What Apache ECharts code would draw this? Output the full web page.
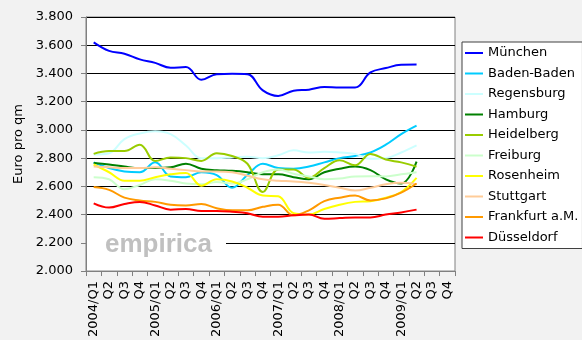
<!DOCTYPE html>
<html><head><meta charset="utf-8">
<script src="https://cdn.jsdelivr.net/npm/echarts@6/dist/echarts.min.js"></script>
<style>html,body{margin:0;padding:0;background:#F2F2F2;}#c{width:582px;height:340px;}</style>
</head><body><div id="c"></div>
<script>
const categories = ['2004/Q1','Q2','Q3','Q4','2005/Q1','Q2','Q3','Q4','2006/Q1','Q2','Q3','Q4','2007/Q1','Q2','Q3','Q4','2008/Q1','Q2','Q3','Q4','2009/Q1','Q2','Q3','Q4'];
const yTickLabels = ['2.000','2.200','2.400','2.600','2.800','3.000','3.200','3.400','3.600','3.800'];
const seriesNames = ['München','Baden-Baden','Regensburg','Hamburg','Heidelberg','Freiburg','Rosenheim','Stuttgart','Frankfurt a.M.','Düsseldorf'];
const muenchen   = [3620,3560,3540,3500,3475,3440,3445,3355,3395,3398,3395,3280,3240,3278,3285,3304,3300,3300,3407,3438,3461,3463];
const badenBaden = [2770,2730,2705,2700,2770,2670,2665,2700,2680,2590,2680,2760,2730,2725,2740,2770,2800,2815,2840,2895,2970,3030];
const regensburg = [2825,2835,2935,2975,2990,2970,2890,2800,2800,2805,2810,2800,2820,2855,2840,2845,2840,2830,2795,2800,2840,2890];
const hamburg    = [2765,2755,2740,2730,2730,2735,2760,2725,2715,2710,2700,2685,2685,2665,2650,2700,2725,2740,2715,2650,2620,2775];
const heidelberg = [2830,2850,2850,2895,2780,2805,2800,2780,2835,2815,2760,2560,2720,2720,2660,2730,2785,2750,2830,2790,2770,2740];
const freiburg   = [2665,2650,2580,2610,2650,2640,2620,2615,2630,2620,2650,2700,2720,2690,2670,2650,2655,2670,2672,2670,2685,2700];
const rosenheim  = [2755,2700,2640,2640,2665,2685,2695,2605,2650,2635,2590,2535,2530,2410,2400,2440,2470,2490,2495,2520,2560,2660];
const stuttgart  = [2740,2735,2730,2730,2735,2725,2715,2705,2705,2700,2675,2650,2640,2635,2625,2610,2590,2570,2590,2615,2625,2615];
const frankfurt  = [2595,2575,2520,2500,2490,2470,2465,2475,2445,2430,2430,2455,2470,2395,2430,2495,2520,2535,2500,2515,2555,2620];
const duesseldorf= [2480,2450,2475,2490,2465,2435,2440,2425,2425,2420,2410,2385,2385,2395,2400,2370,2375,2380,2380,2400,2415,2435];

const allData = [muenchen,badenBaden,regensburg,hamburg,heidelberg,freiburg,rosenheim,stuttgart,frankfurt,duesseldorf];
const colors = ['#0000FF','#00CCFF','#CCFFFF','#008000','#99CC00','#CCFFCC','#FFFF00','#FFCC99','#FF9900','#FF0000'];
const FONT = 'DejaVu Sans';

const chart = echarts.init(document.getElementById('c'), null, {renderer:'canvas'});
chart.setOption({
  backgroundColor: '#F2F2F2',
  animation: false,
  textStyle: {fontFamily: FONT},
  grid: {left: 86, right: 127, top: 17, bottom: 68, show: true, backgroundColor: '#FFFFFF', borderColor: '#808080', borderWidth: 1},
  legend: {
    orient: 'vertical', left: 462, top: 42,
    backgroundColor: '#FFFFFF', borderColor: '#404040', borderWidth: 1, borderRadius: 0,
    padding: [1, 4, 1, 3],
    itemWidth: 18, itemHeight: 2, itemGap: 0.5, icon: 'rect',
    textStyle: {fontFamily: FONT, fontSize: 13, color: '#000', lineHeight: 20},
    data: seriesNames
  },
  xAxis: {
    type: 'category', data: categories, boundaryGap: true,
    axisLine: {lineStyle: {color: '#808080'}},
    axisTick: {show: true, interval: 0, length: 5, lineStyle: {color: '#808080'}},
    axisLabel: {interval: 0, rotate: 90, margin: 10, color: '#000', fontFamily: FONT, fontSize: 13},
    splitLine: {show: false}
  },
  yAxis: {
    type: 'value', min: 2000, max: 3800, interval: 200,
    name: 'Euro pro qm', nameLocation: 'middle', nameGap: 56,
    nameTextStyle: {fontFamily: FONT, fontSize: 13, color: '#000'},
    axisLine: {show: true, lineStyle: {color: '#808080'}},
    axisTick: {show: true, length: 5, lineStyle: {color: '#808080'}},
    axisLabel: {margin: 13, color: '#000', fontFamily: FONT, fontSize: 13,
      formatter: v => yTickLabels[Math.round((v - 2000) / 200)]},
    splitLine: {show: true, lineStyle: {color: '#000000', width: 1}}
  },
  graphic: [
    {type: 'rect', z: 5, shape: {x: 87, y: 234, width: 139, height: 20}, style: {fill: '#FFFFFF'}},
    {type: 'text', z: 6, x: 105, y: 245, style: {text: 'empirica', font: 'bold 26px "Liberation Sans"', fill: '#C0C0C0', textVerticalAlign: 'middle'}}
  ],
  series: seriesNames.map((n, i) => ({
    name: n, type: 'line', data: allData[i], smooth: 0.4, symbol: 'none',
    lineStyle: {color: colors[i], width: 2}, itemStyle: {color: colors[i]}, z: 10
  }))
});
</script></body></html>
